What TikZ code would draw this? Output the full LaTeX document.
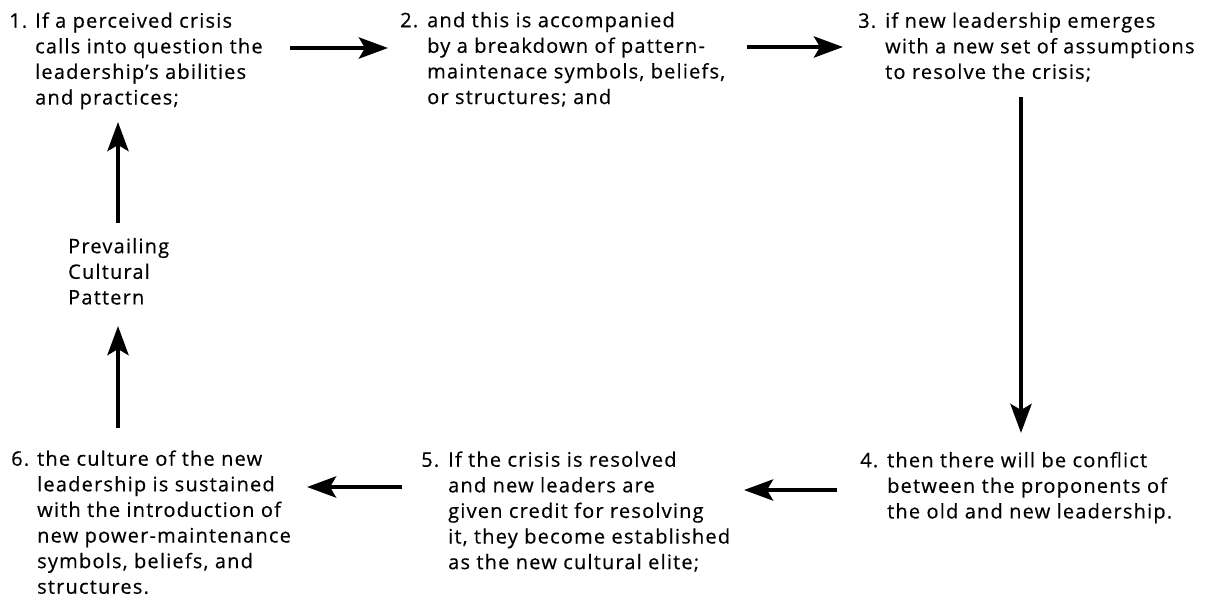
\documentclass[tikz,border=0pt]{standalone}
\usepackage{fontspec}
\setmainfont{Open Sans}[LetterSpace=6,FakeBold=0.4]
\usetikzlibrary{arrows.meta}

\begin{document}
\begin{tikzpicture}[x=1pt,y=-1pt,
  blocktext/.style={anchor=north west, inner sep=0pt, align=left,
    font=\fontsize{20pt}{25.6pt}\selectfont},
  flow/.style={line width=4.5pt,
    -{Stealth[length=29pt,width=21pt,inset=6pt]}}
]
\useasboundingbox[fill=white] (0,0) rectangle (1213,600);

% the strut in the first line puts its baseline 17.9pt below the node top
\node[blocktext] (b1) at (35,9.6)
  {\strut\llap{1.\hspace{8pt}}If a perceived crisis\\calls into question the\\leadership's abilities\\and practices;};
\node[blocktext] (b2) at (427,9.1)
  {\strut\llap{2.\hspace{9pt}}and this is accompanied\\by a breakdown of pattern-\\maintenace symbols, beliefs,\\or structures; and};
\node[blocktext] (b3) at (885,9.6)
  {\strut\llap{3.\hspace{9pt}}if new leadership emerges\\with a new set of assumptions\\to resolve the crisis;};
\node[blocktext] (b4) at (887,449.1)
  {\strut\llap{4.\hspace{9pt}}then there will be conflict\\between the proponents of\\the old and new leadership.};
\node[blocktext] (b5) at (448,448.6)
  {\strut\llap{5.\hspace{9pt}}If the crisis is resolved\\and new leaders are\\given credit for resolving\\it, they become established\\as the new cultural elite;};
\node[blocktext] (b6) at (37,447.6)
  {\strut\llap{6.\hspace{8pt}}the culture of the new\\leadership is sustained\\with the introduction of\\new power-maintenance\\symbols, beliefs, and\\structures.};
\node[blocktext] (pcp) at (68,235.1)
  {\strut Prevailing\\Cultural\\Pattern};

% connector end points
\coordinate (a12s) at (290,48);  \coordinate (a12e) at (388,48);
\coordinate (a23s) at (747,47);  \coordinate (a23e) at (843,47);
\coordinate (a34s) at (1021,97); \coordinate (a34e) at (1021,433);
\coordinate (a45s) at (837,490); \coordinate (a45e) at (744,490);
\coordinate (a56s) at (402,487); \coordinate (a56e) at (307,487);
\coordinate (a6ps) at (118,428); \coordinate (a6pe) at (118,326);
\coordinate (ap1s) at (118,223); \coordinate (ap1e) at (118,122);

\draw[flow] (a12s) -- (a12e);
\draw[flow] (a23s) -- (a23e);
\draw[flow] (a34s) -- (a34e);
\draw[flow] (a45s) -- (a45e);
\draw[flow] (a56s) -- (a56e);
\draw[flow] (a6ps) -- (a6pe);
\draw[flow] (ap1s) -- (ap1e);
\end{tikzpicture}
\end{document}
